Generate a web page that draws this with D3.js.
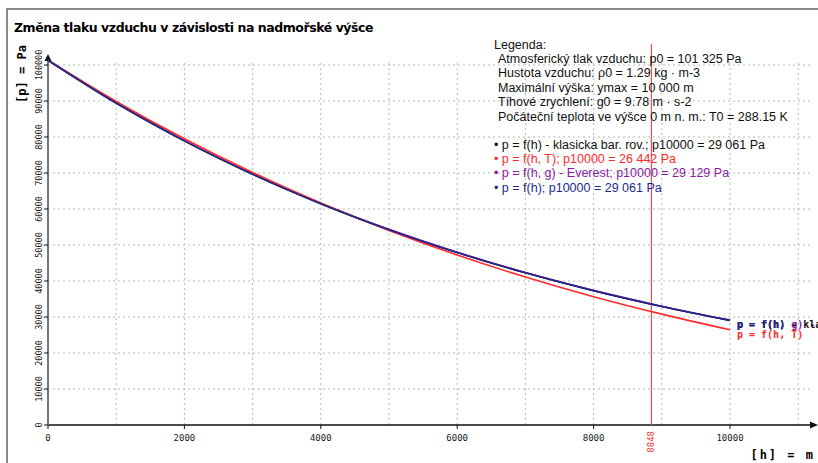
<!DOCTYPE html>
<html>
<head>
<meta charset="utf-8" />
<title>Změna tlaku vzduchu</title>
<style>
  body { margin: 0; background: #fff; }
  svg { display: block; }
</style>
</head>
<body>
<div id="chart"></div>
<script src="https://d3js.org/d3.v7.min.js"></script>
<script>
// heights (m) and pressures (Pa)
const heights = [0, 1000, 2000, 3000, 4000, 5000, 6000, 7000, 8000, 9000, 10000];
const pClassic = [101325, 89430, 78930, 69660, 61480, 54260, 47900, 42270, 37310, 32930, 29061];
const pTemp    = [101325, 89880, 79500, 70120, 61660, 54050, 47220, 41110, 35650, 30800, 26442];
const pGrav    = [101325, 89450, 78970, 69720, 61550, 54340, 47980, 42350, 37390, 33010, 29129];
const pSimple  = [101325, 89430, 78930, 69660, 61480, 54260, 47900, 42270, 37310, 32930, 29061];

const xTicks = [0, 2000, 4000, 6000, 8000, 10000];
const yTicks = [0, 10000, 20000, 30000, 40000, 50000, 60000, 70000, 80000, 90000, 100000];
const everest = 8848;

const legendInfo = [
  "Atmosferický tlak vzduchu: p0 = 101 325 Pa",
  "Hustota vzduchu: ρ0 = 1.29 kg · m-3",
  "Maximální výška: ymax = 10 000 m",
  "Tíhové zrychlení: g0 = 9.78 m · s-2",
  "Počáteční teplota ve výšce 0 m n. m.: T0 = 288.15 K"
];

const series = [
  {values: pClassic, color: "#111111", label: "p = f(h) - klasicka bar. rov.", legend: "p = f(h) - klasicka bar. rov.; p10000 = 29 061 Pa"},
  {values: pTemp, color: "#ff2a2a", label: "p = f(h, T)", legend: "p = f(h, T); p10000 = 26 442 Pa"},
  {values: pGrav, color: "#8a1a9e", label: "p = f(h, g) - Everest", legend: "p = f(h, g) - Everest; p10000 = 29 129 Pa"},
  {values: pSimple, color: "#1c2a8c", label: "p = f(h)", legend: "p = f(h); p10000 = 29 061 Pa"}
];

const W = 818, H = 463;
const svg = d3.select("#chart").append("svg").attr("width", W).attr("height", H);

// outer frame (cut off on the right and bottom)
svg.append("rect").attr("x", 7).attr("y", 9).attr("width", 830).attr("height", 480)
  .attr("fill", "none").attr("stroke", "#8a8a8a").attr("stroke-width", 2);

svg.append("text").attr("x", 14).attr("y", 32)
  .style("font-family", "'DejaVu Sans', sans-serif").style("font-size", "12.5px").style("font-weight", "bold")
  .style("letter-spacing", "-0.45px")
  .text("Změna tlaku vzduchu v závislosti na nadmořské výšce");

const x = d3.scaleLinear().domain([0, 10000]).range([48, 730]);
const y = d3.scaleLinear().domain([0, 100000]).range([425, 65]);

// grid
const gx = d3.range(1000, 11001, 1000);
svg.append("g").selectAll("line").data(gx).join("line")
  .attr("x1", d => x(d)).attr("x2", d => x(d)).attr("y1", 425).attr("y2", 62)
  .attr("stroke", "#b8b8b8").attr("stroke-dasharray", "2,3");
svg.append("g").selectAll("line").data(yTicks.slice(1)).join("line")
  .attr("x1", 48).attr("x2", 810).attr("y1", d => y(d)).attr("y2", d => y(d))
  .attr("stroke", "#b8b8b8").attr("stroke-dasharray", "2,3");

// x axis
svg.append("line").attr("x1", 48).attr("x2", 812).attr("y1", 425).attr("y2", 425)
  .attr("stroke", "#111").attr("stroke-width", 1.5);
svg.append("path").attr("d", "M818,425 L810,421.5 L810,428.5 Z").attr("fill", "#111");
svg.append("g").selectAll("line").data(xTicks).join("line")
  .attr("x1", d => x(d)).attr("x2", d => x(d)).attr("y1", 425).attr("y2", 429).attr("stroke", "#111");
svg.append("g").selectAll("text").data(xTicks).join("text")
  .attr("x", d => x(d)).attr("y", 441).attr("text-anchor", "middle")
  .style("font-family", "'DejaVu Sans Mono', monospace").style("font-size", "9px").style("fill", "#222")
  .text(d => d);

// y axis
svg.append("line").attr("x1", 48).attr("x2", 48).attr("y1", 425).attr("y2", 60)
  .attr("stroke", "#777").attr("stroke-width", 2);
svg.append("path").attr("d", "M48,54 L44.5,61 L51.5,61 Z").attr("fill", "#111");
svg.append("g").selectAll("line").data(yTicks).join("line")
  .attr("x1", 44).attr("x2", 48).attr("y1", d => y(d)).attr("y2", d => y(d)).attr("stroke", "#111");
svg.append("g").selectAll("text").data(yTicks).join("text")
  .attr("transform", d => `translate(42,${y(d)}) rotate(-90)`).attr("text-anchor", "middle")
  .style("font-family", "'DejaVu Sans Mono', monospace").style("font-size", "8.5px").style("fill", "#222")
  .text(d => d);

// axis titles
svg.append("text").attr("transform", "translate(26,74) rotate(-90)").attr("text-anchor", "middle")
  .style("font-family", "'DejaVu Sans Mono', monospace").style("font-size", "12px").style("font-weight", "bold")
  .text("[p] = Pa");
svg.append("text").attr("x", 815).attr("y", 459).attr("text-anchor", "end")
  .style("font-family", "'DejaVu Sans Mono', monospace").style("font-size", "12px").style("font-weight", "bold")
  .style("letter-spacing", "2px")
  .text("[h] = m");

// Everest line
svg.append("line").attr("x1", x(everest)).attr("x2", x(everest)).attr("y1", 425).attr("y2", 44)
  .attr("stroke", "#f05050").attr("stroke-width", 1.2);
svg.append("text").attr("transform", `translate(${x(everest) + 3},431) rotate(-90)`).attr("text-anchor", "end")
  .style("font-family", "'DejaVu Sans Mono', monospace").style("font-size", "9px").style("fill", "#f04040")
  .text(everest);

// curves
const line = d3.line().x((d, i) => x(heights[i])).y(d => y(d)).curve(d3.curveMonotoneX);
const drawOrder = [0, 2, 1, 3];
drawOrder.forEach(k => {
  const s = series[k];
  svg.append("path").attr("d", line(s.values)).attr("fill", "none")
    .attr("stroke", s.color).attr("stroke-width", 1.6);
});

// end labels (they overlap in the original too)
const endLabel = (s, yy) => svg.append("text").attr("x", 737).attr("y", yy)
  .style("font-family", "'DejaVu Sans Mono', monospace").style("font-size", "10px").style("font-weight", "bold")
  .style("fill", s.color).text(s.label);
endLabel(series[2], y(29129) + 8);
endLabel(series[0], y(29061) + 8);
endLabel(series[3], y(29061) + 8);
endLabel(series[1], y(26442) + 8);

// legend
const lg = svg.append("g").style("font-family", "'Liberation Sans', Arial, sans-serif").style("font-size", "12.5px");
lg.append("text").attr("x", 494).attr("y", 49).style("fill", "#111").text("Legenda:");
lg.selectAll("text.info").data(legendInfo).join("text").attr("class", "info")
  .attr("x", 498).attr("y", (d, i) => 63 + i * 14.4).style("fill", "#111").text(d => d);
lg.selectAll("text.ser").data(series).join("text").attr("class", "ser")
  .attr("x", 494).attr("y", (d, i) => 149 + i * 14.2).style("fill", d => d.color)
  .text(d => "• " + d.legend);
</script>
</body>
</html>
